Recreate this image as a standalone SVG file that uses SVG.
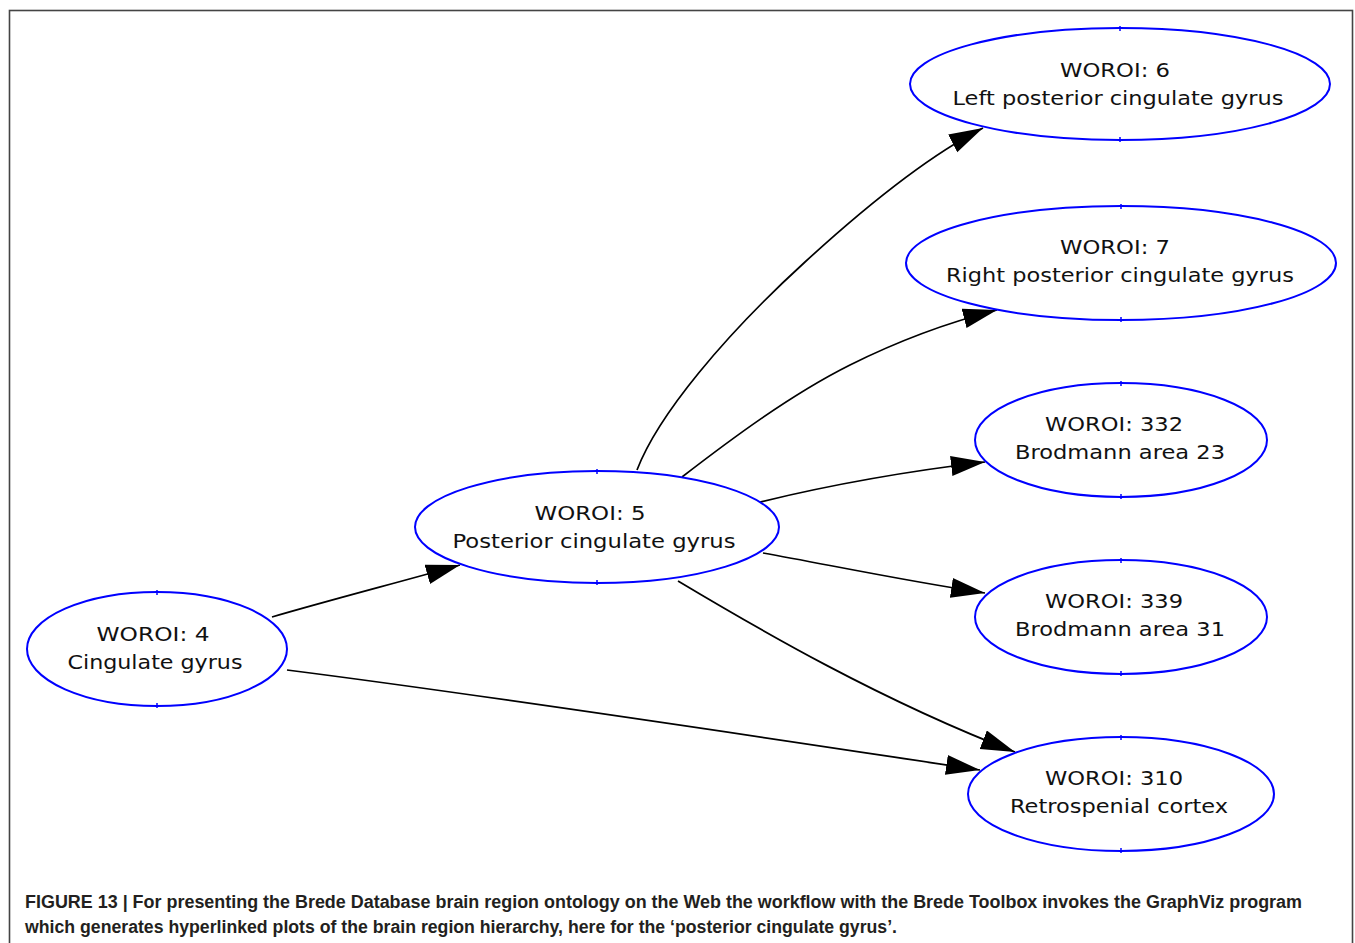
<svg xmlns="http://www.w3.org/2000/svg" width="1355" height="943" viewBox="0 0 1355 943">
<style>
.node ellipse{fill:#ffffff;stroke:#0000ff;stroke-width:2}
.node line{stroke:#0000ff;stroke-width:1.5}
.node text{font-family:"DejaVu Sans",sans-serif;font-size:19px;fill:#111;text-anchor:middle}
.edge{fill:none;stroke:#000;stroke-width:1.7;marker-end:url(#arr)}
.cap{font-family:"Liberation Sans",Arial,sans-serif;font-weight:bold;font-size:18px;fill:#231f20}
</style>
<defs>
<marker id="arr" markerUnits="userSpaceOnUse" markerWidth="36" markerHeight="22" refX="34" refY="10" orient="auto">
<path d="M0,0 L34,10 L0,20 z" fill="#000"/>
</marker>
</defs>
<rect x="0" y="0" width="1355" height="943" fill="#ffffff"/>
<rect x="9.5" y="10.5" width="1343" height="940" fill="none" stroke="#444" stroke-width="1.6"/>
<g id="connectors">
<path class="edge" d="M272,617 C330,600 400,582 460,565"/>
<path class="edge" d="M287,670 C500,697 780,740 980,770"/>
<path class="edge" d="M637,470 C658,415 725,335 805,262 C865,207 930,155 983,128"/>
<path class="edge" d="M682,477 C730,440 790,395 850,365 C900,340 950,322 997,310"/>
<path class="edge" d="M760,502 C830,485 900,472 985,462"/>
<path class="edge" d="M763,553 C830,565 900,580 985,593"/>
<path class="edge" d="M678,581 C760,630 880,700 1015,752"/>
</g>
<g id="node4" class="node">
<ellipse cx="157" cy="649" rx="130" ry="57"/>
<line x1="157" y1="590" x2="157" y2="595"/><line x1="157" y1="703" x2="157" y2="708"/>
<text x="153" y="641" textLength="113" lengthAdjust="spacingAndGlyphs">WOROI: 4</text>
<text x="155" y="669" textLength="175" lengthAdjust="spacingAndGlyphs">Cingulate gyrus</text>
</g>
<g id="node5" class="node">
<ellipse cx="597" cy="527" rx="182" ry="56"/>
<line x1="597" y1="469" x2="597" y2="474"/><line x1="597" y1="580" x2="597" y2="585"/>
<text x="590" y="520" textLength="111" lengthAdjust="spacingAndGlyphs">WOROI: 5</text>
<text x="594" y="548" textLength="283" lengthAdjust="spacingAndGlyphs">Posterior cingulate gyrus</text>
</g>
<g id="node6" class="node">
<ellipse cx="1120" cy="84" rx="210" ry="56"/>
<line x1="1120" y1="26" x2="1120" y2="31"/><line x1="1120" y1="137" x2="1120" y2="142"/>
<text x="1115" y="77" textLength="110" lengthAdjust="spacingAndGlyphs">WOROI: 6</text>
<text x="1118" y="105" textLength="331" lengthAdjust="spacingAndGlyphs">Left posterior cingulate gyrus</text>
</g>
<g id="node7" class="node">
<ellipse cx="1121" cy="263" rx="215" ry="57"/>
<line x1="1121" y1="204" x2="1121" y2="209"/><line x1="1121" y1="317" x2="1121" y2="322"/>
<text x="1115" y="254" textLength="110" lengthAdjust="spacingAndGlyphs">WOROI: 7</text>
<text x="1120" y="282" textLength="348" lengthAdjust="spacingAndGlyphs">Right posterior cingulate gyrus</text>
</g>
<g id="node332" class="node">
<ellipse cx="1121" cy="440" rx="146" ry="57"/>
<line x1="1121" y1="381" x2="1121" y2="386"/><line x1="1121" y1="494" x2="1121" y2="499"/>
<text x="1114" y="431" textLength="138" lengthAdjust="spacingAndGlyphs">WOROI: 332</text>
<text x="1120" y="459" textLength="210" lengthAdjust="spacingAndGlyphs">Brodmann area 23</text>
</g>
<g id="node339" class="node">
<ellipse cx="1121" cy="617" rx="146" ry="57"/>
<line x1="1121" y1="558" x2="1121" y2="563"/><line x1="1121" y1="671" x2="1121" y2="676"/>
<text x="1114" y="608" textLength="138" lengthAdjust="spacingAndGlyphs">WOROI: 339</text>
<text x="1120" y="636" textLength="210" lengthAdjust="spacingAndGlyphs">Brodmann area 31</text>
</g>
<g id="node310" class="node">
<ellipse cx="1121" cy="794" rx="153" ry="57"/>
<line x1="1121" y1="735" x2="1121" y2="740"/><line x1="1121" y1="848" x2="1121" y2="853"/>
<text x="1114" y="785" textLength="138" lengthAdjust="spacingAndGlyphs">WOROI: 310</text>
<text x="1119" y="813" textLength="218" lengthAdjust="spacingAndGlyphs">Retrospenial cortex</text>
</g>
<g id="caption">
<text class="cap" x="25" y="908" textLength="1277" lengthAdjust="spacingAndGlyphs">FIGURE 13 | For presenting the Brede Database brain region ontology on the Web the workflow with the Brede Toolbox invokes the GraphViz program</text>
<text class="cap" x="25" y="933" textLength="872" lengthAdjust="spacingAndGlyphs">which generates hyperlinked plots of the brain region hierarchy, here for the ‘posterior cingulate gyrus’.</text>
</g>
</svg>
